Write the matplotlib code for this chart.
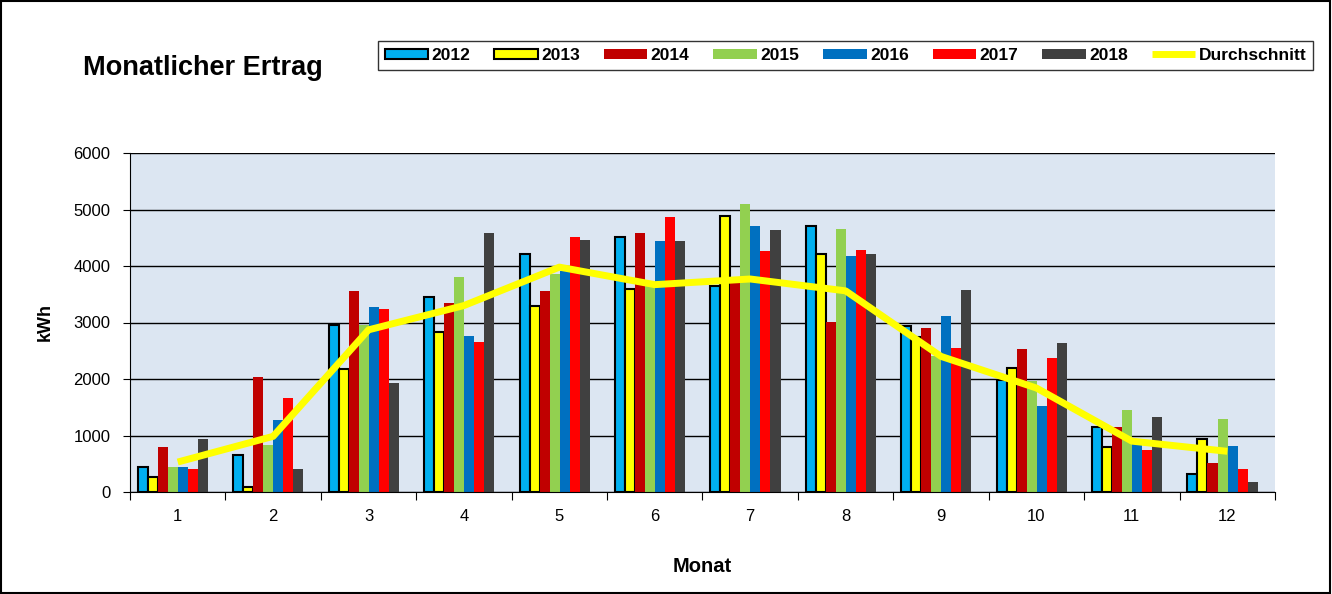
import matplotlib
matplotlib.use("Agg")
import matplotlib.pyplot as plt
import numpy as np
from matplotlib.patches import Rectangle

plt.rcParams['font.family'] = ['Liberation Sans', 'DejaVu Sans']

months = [1, 2, 3, 4, 5, 6, 7, 8, 9, 10, 11, 12]
years = ['2012', '2013', '2014', '2015', '2016', '2017', '2018']
v2012 = [440, 650, 2950, 3460, 4210, 4510, 3640, 4710, 2930, 1990, 1150, 320]
v2013 = [260, 80, 2180, 2840, 3300, 3590, 4890, 4210, 2740, 2200, 800, 940]
v2014 = [800, 2030, 3550, 3350, 3550, 4580, 3750, 3010, 2910, 2530, 1150, 520]
v2015 = [450, 830, 2950, 3810, 3850, 3700, 5100, 4650, 2400, 1970, 1450, 1290]
v2016 = [440, 1270, 3280, 2760, 3910, 4440, 4700, 4170, 3120, 1520, 940, 810]
v2017 = [415, 1660, 3240, 2660, 4510, 4860, 4260, 4280, 2550, 2370, 740, 400]
v2018 = [940, 415, 1930, 4580, 4460, 4440, 4630, 4220, 3570, 2640, 1320, 185]
avg = [530, 985, 2870, 3300, 3980, 3670, 3770, 3560, 2400, 1840, 900, 720]
yticks = [0, 1000, 2000, 3000, 4000, 5000, 6000]

series = [v2012, v2013, v2014, v2015, v2016, v2017, v2018]
colors = ['#00B0F0', '#FFFF00', '#C00000', '#92D050', '#0070C0', '#FF0000', '#404040']
edges = [True, True, False, False, False, False, False]

fig = plt.figure(figsize=(13.32, 5.94), dpi=100)
ax = fig.add_axes([130/1332, 1-492/594, 1145/1332, 339/594])
ax.set_facecolor('#DCE6F2')

x = np.arange(len(months)) + 1
bw = 0.105
handles = []
for i, (vals, c, e) in enumerate(zip(series, colors, edges)):
    off = (i - 3) * bw - 0.05
    if e:
        h = ax.bar(x + off, vals, width=bw, color=c, edgecolor='black', linewidth=1.5, zorder=2, label=years[i])
    else:
        h = ax.bar(x + off, vals, width=bw, color=c, linewidth=0, zorder=2, label=years[i])
    handles.append(h)

ln, = ax.plot(x, avg, color='#FFFF00', linewidth=5, zorder=3, label='Durchschnitt', solid_capstyle='butt')
handles.append(ln)

ax.set_xlim(0.5, 12.5)
ax.set_ylim(0, 6000)
ax.set_yticks(yticks)
ax.set_yticklabels([str(t) for t in yticks], fontsize=12)
ax.yaxis.grid(True, color='black', linewidth=1, zorder=1)
ax.set_axisbelow(True)
ax.set_xticks(np.arange(0.5, 13, 1))
ax.set_xticklabels([])
ax.set_xticks(x, minor=True)
ax.set_xticklabels([str(m) for m in months], minor=True, fontsize=12)
ax.tick_params(axis='x', which='major', length=6, direction='out', color='black')
ax.tick_params(axis='x', which='minor', length=0, pad=12)
ax.tick_params(axis='y', length=5, direction='out', pad=9)
for s in ['top', 'right']:
    ax.spines[s].set_visible(False)

fig.text(45/1332, 1-322/594, 'kWh', rotation=90, ha='center', va='center', fontsize=13, fontweight='bold')
fig.text(702/1332, 1-572/594, 'Monat', ha='center', va='baseline', fontsize=14.5, fontweight='bold')
fig.text(83/1332, 1-75/594, 'Monatlicher Ertrag', ha='left', va='baseline', fontsize=19.5, fontweight='bold')

labels = years + ['Durchschnitt']
leg = fig.legend(handles, labels, ncol=8, loc='center', bbox_to_anchor=(845.5/1332, 1-55.5/594),
                 frameon=True, fancybox=False, edgecolor='black', prop={'weight': 'bold', 'size': 12.5},
                 handlelength=2.5, handleheight=0.5, columnspacing=1.38, handletextpad=0.2,
                 borderpad=0.4)
leg.get_frame().set_linewidth(1)

fig.patches.append(Rectangle((0.0005, 0.001), 0.998, 0.998, transform=fig.transFigure,
                             fill=False, edgecolor='black', linewidth=1.5))

fig.savefig('out.png', dpi=100)
